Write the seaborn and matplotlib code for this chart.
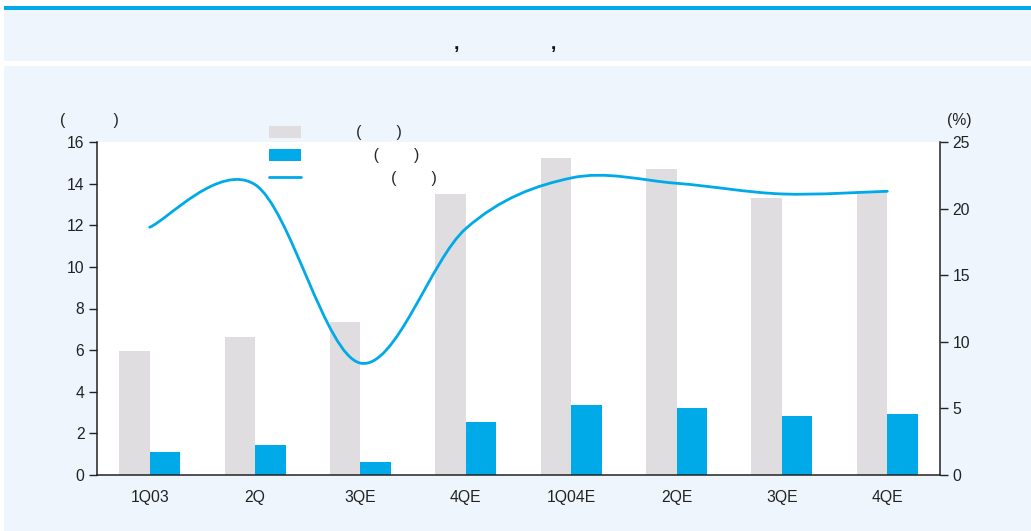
import numpy as np
import pandas as pd
import matplotlib
matplotlib.use("Agg")
import matplotlib.pyplot as plt
from matplotlib.path import Path
from matplotlib.patches import PathPatch, Rectangle
from matplotlib.lines import Line2D
import seaborn as sns

# ---- data ----
quarters = ["1Q03", "2Q", "3QE", "4QE", "1Q04E", "2QE", "3QE", "4QE"]
sales = [5.95, 6.63, 7.35, 13.5, 15.25, 14.7, 13.3, 13.6]
profit = [1.1, 1.44, 0.62, 2.55, 3.36, 3.22, 2.83, 2.93]
margin = [18.6, 21.8, 8.4, 18.5, 22.3, 21.9, 21.1, 21.3]
left_ticks = [0, 2, 4, 6, 8, 10, 12, 14, 16]
right_ticks = [0, 5, 10, 15, 20, 25]

GREY = "#dfdddf"
BLUE = "#00a9e8"
PANEL = "#eef5fc"
FS = 11.3

sns.set_theme(style="white")
plt.rcParams["font.family"] = ["Liberation Sans", "DejaVu Sans"]
plt.rcParams["font.size"] = FS

W, H = 1031, 531
fig = plt.figure(figsize=(W / 100, H / 100), dpi=100)
fig.patch.set_facecolor("white")


def fx(px):
    return px / W


def fy(py):
    return 1 - py / H


# header band, top rule and lower panel
for rect in [
    Rectangle((fx(4), fy(61)), fx(W - 4), 52 / H, facecolor=PANEL),
    Rectangle((fx(4), fy(9.5)), fx(W - 4), 3.5 / H, facecolor=BLUE),
    Rectangle((fx(4), 0), fx(W - 4), fy(66), facecolor=PANEL),
]:
    rect.set_transform(fig.transFigure)
    rect.set_edgecolor("none")
    rect.set_zorder(-5)
    fig.patches.append(rect)

fig.text(fx(505), fy(45), ",                 ,", ha="center", va="center",
         fontsize=14, fontweight="bold", color="#111111")

ax = fig.add_axes([fx(97), fy(475), fx(940 - 97), (475 - 142) / H])
ax.set_facecolor("white")

df = pd.DataFrame({
    "quarter": quarters * 2,
    "series": ["sales"] * len(quarters) + ["profit"] * len(quarters),
    "value": sales + profit,
    "pos": list(range(len(quarters))) * 2,
})
sns.barplot(data=df, x="pos", y="value", hue="series", palette=[GREY, BLUE],
            width=0.58, gap=0, dodge=True, legend=False, ax=ax, saturation=1,
            linewidth=0, edgecolor="none")

ax.set_xlim(-0.5, len(quarters) - 0.5)
ax.set_ylim(0, 16)
ax.set_yticks(left_ticks)
ax.set_xticks(range(len(quarters)))
ax.set_xticklabels(quarters)
ax.set_xticks(np.arange(-0.5, len(quarters), 1.0), minor=True)
ax.tick_params(axis="x", which="major", length=0, pad=11, labelsize=FS, colors="#222222")
ax.tick_params(axis="x", which="minor", length=6, width=1, direction="out", color="#222222")
ax.tick_params(axis="y", length=6, width=1, direction="out", pad=3, labelsize=FS,
               color="#222222", labelcolor="#222222")
ax.set_xlabel("")
ax.set_ylabel("")
for side in ["top", "right"]:
    ax.spines[side].set_visible(False)
for side in ["left", "bottom"]:
    ax.spines[side].set_color("#222222")
    ax.spines[side].set_linewidth(1.1)

ax2 = ax.twinx()
ax2.set_ylim(0, 25)
ax2.set_yticks(right_ticks)
ax2.tick_params(axis="y", length=6, width=1, direction="out", pad=3, labelsize=FS,
                color="#222222", labelcolor="#222222")
for side in ["top", "left", "bottom"]:
    ax2.spines[side].set_visible(False)
ax2.spines["right"].set_color("#222222")
ax2.spines["right"].set_linewidth(1.1)
ax2.grid(False)

# smoothed margin line: Catmull-Rom segments as cubic Bezier curves
pts = np.column_stack([np.arange(len(margin), dtype=float), margin])
ext = np.vstack([pts[0], pts, pts[-1]])
verts = [tuple(pts[0])]
codes = [Path.MOVETO]
for i in range(len(pts) - 1):
    p0, p1, p2, p3 = ext[i], ext[i + 1], ext[i + 2], ext[i + 3]
    c1 = p1 + (p2 - p0) / 6
    c2 = p2 - (p3 - p1) / 6
    verts += [tuple(c1), tuple(c2), tuple(p2)]
    codes += [Path.CURVE4] * 3
ax2.add_patch(PathPatch(Path(verts, codes), facecolor="none", edgecolor=BLUE,
                        linewidth=2.0, capstyle="round", zorder=5))

# axis unit labels
fig.text(fx(89), fy(121), "(           )", ha="center", va="center", fontsize=FS, color="#222222")
fig.text(fx(959), fy(121), "(%)", ha="center", va="center", fontsize=FS, color="#222222")

# legend
handles = [
    Rectangle((0, 0), 1, 1, facecolor=GREY, edgecolor="none"),
    Rectangle((0, 0), 1, 1, facecolor=BLUE, edgecolor="none"),
    Line2D([0], [0], color=BLUE, linewidth=2.0),
]
labels = [
    "           (        )",
    "               (        )",
    "                   (        )",
]
fig.legend(handles, labels, loc="upper left", bbox_to_anchor=(fx(266), fy(122)),
           frameon=False, fontsize=FS, handlelength=2.0, handleheight=0.8,
           handletextpad=0.5, labelspacing=0.5, borderaxespad=0, borderpad=0.2)

fig.savefig("out.png", dpi=100, facecolor=fig.get_facecolor())
